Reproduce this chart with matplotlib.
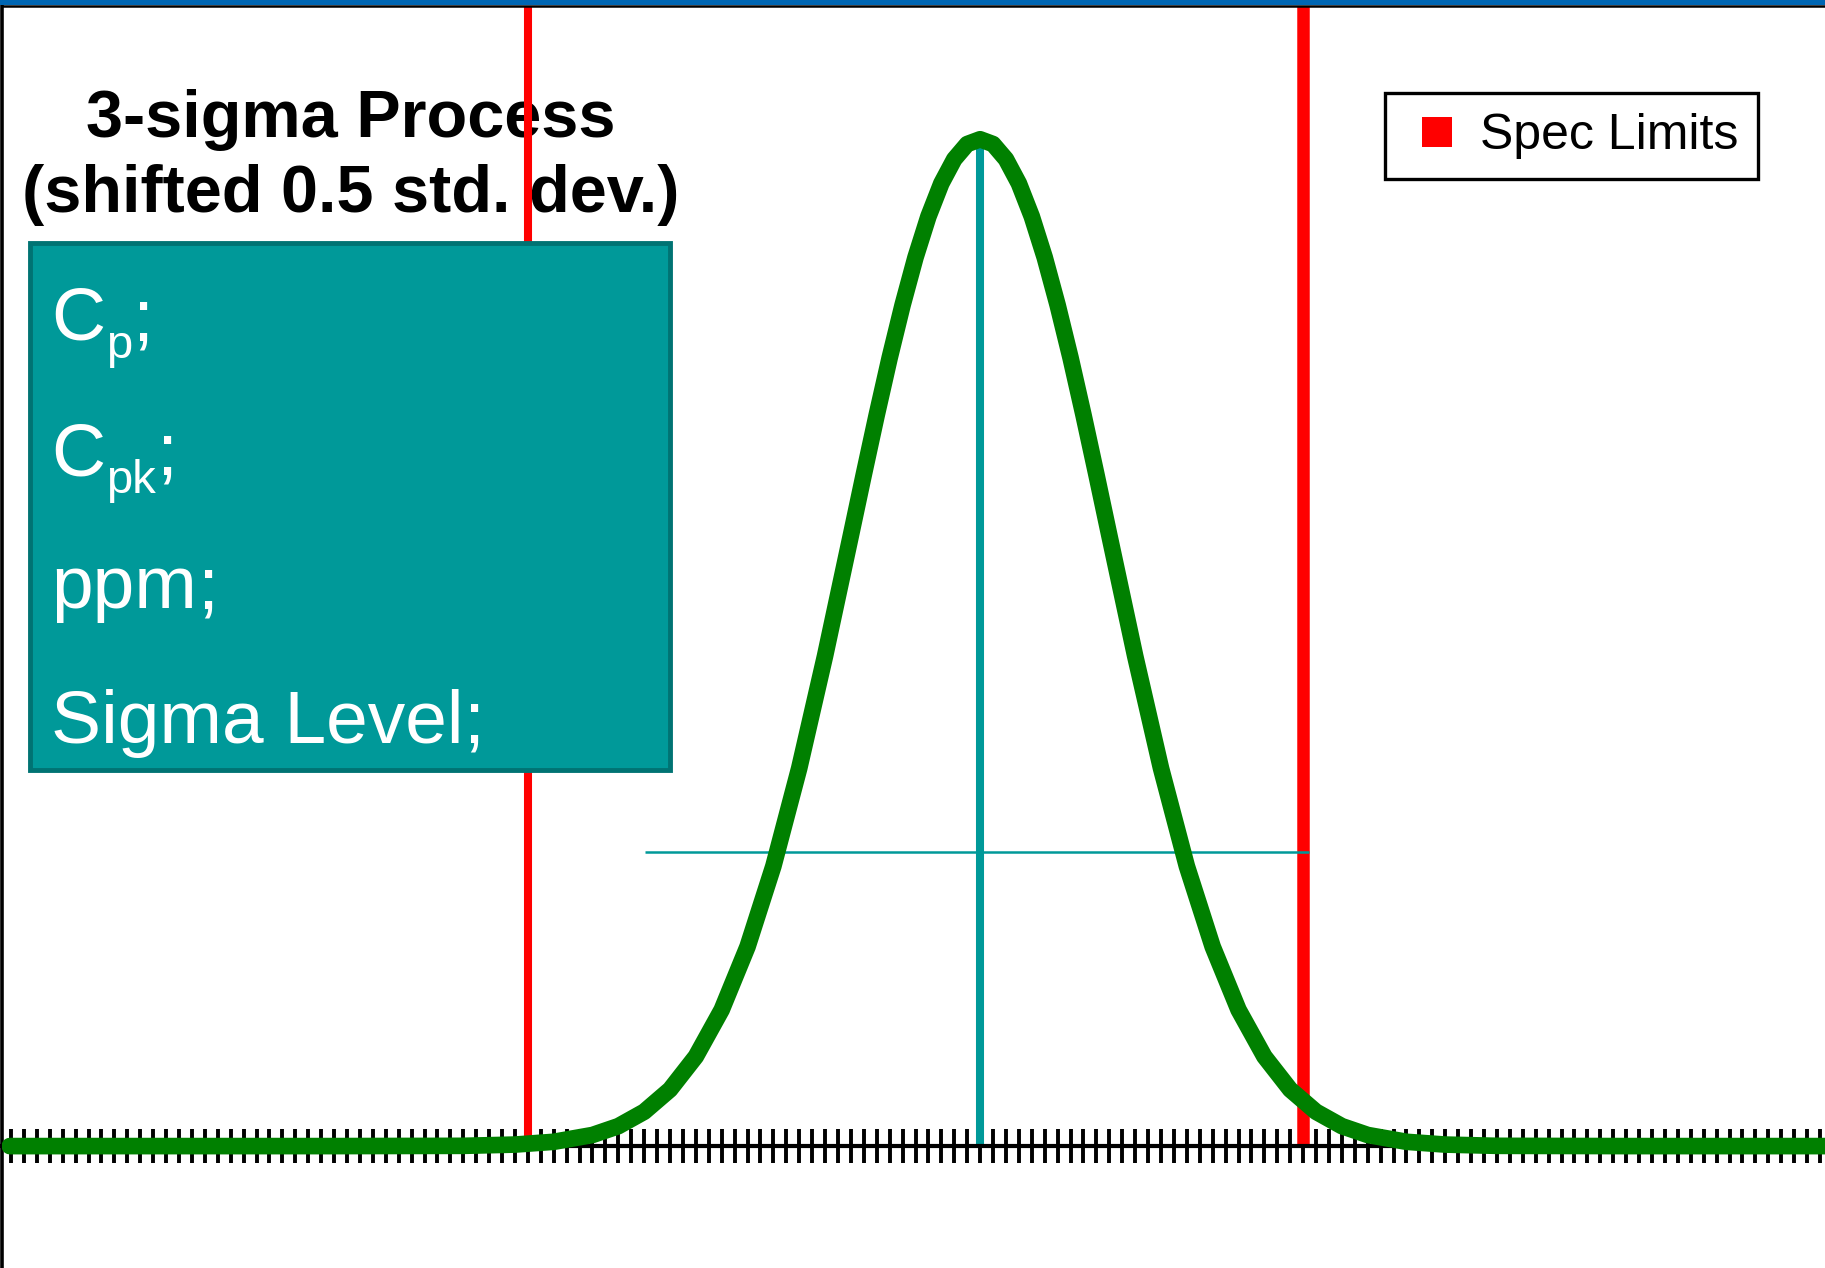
import matplotlib
matplotlib.use("Agg")
import matplotlib.pyplot as plt
from matplotlib.patches import Rectangle
from matplotlib.lines import Line2D
from matplotlib.ticker import MultipleLocator

plt.rcParams.update({
    'font.family': 'Liberation Sans',
})

# x in std. dev. from target, process mean shifted +0.5
curve_x = [-7.01, -4.5, -3.5, -3.1, -2.8, -2.5, -2.3, -2.1, -1.9, -1.7,
           -1.5, -1.3, -1.1, -0.9, -0.7, -0.5, -0.4, -0.3, -0.2, -0.1,
           0.0, 0.1, 0.2, 0.3, 0.4, 0.5, 0.6, 0.7, 0.8, 0.9,
           1.0, 1.1, 1.2, 1.3, 1.4, 1.5, 1.7, 1.9, 2.1, 2.3,
           2.5, 2.7, 2.9, 3.1, 3.3, 3.5, 3.8, 4.1, 4.5, 5.5, 7.2]
curve_y = [0.0, 0.0, 0.0001, 0.0006, 0.0017, 0.0044, 0.0079, 0.0136, 0.0224, 0.0355,
           0.0540, 0.0790, 0.1109, 0.1497, 0.1942, 0.2420, 0.2661, 0.2897, 0.3123, 0.3332,
           0.3521, 0.3683, 0.3814, 0.3910, 0.3970, 0.3989, 0.3970, 0.3910, 0.3814, 0.3683,
           0.3521, 0.3332, 0.3123, 0.2897, 0.2661, 0.2420, 0.1942, 0.1497, 0.1109, 0.0790,
           0.0540, 0.0355, 0.0224, 0.0136, 0.0079, 0.0044, 0.0017, 0.0006, 0.0001, 0.0, 0.0]
spec_limits = [-3.0, 3.0]
spec_widths = [5.8, 9.0]
process_mean = 0.5
peak_height = 0.399
ref_level = 0.1166
ref_span = [-2.094, 3.046]

title_lines = ['3-sigma Process', '(shifted 0.5 std. dev.)']
box_main = ['C', 'C', 'ppm', 'Sigma Level']
box_sub = ['p', 'pk', '', '']
legend_label = 'Spec Limits'

W, H = 1825, 1268
green = '#008000'
teal = '#009999'


def fx(px):
    return px / W


def fy(py):
    return 1 - py / H


fig = plt.figure(figsize=(W / 100, H / 100), dpi=100)
ax = fig.add_axes([fx(2), 0, 1 - fx(2), 1 - 6 / H])
ax.set_xlim(-7.070, 7.039)
ax.set_ylim(-0.0483, 0.4517)

# blue bar along the top
fig.add_artist(Rectangle((0, fy(5)), 1, 5 / H, transform=fig.transFigure,
                         facecolor='#0066B3', edgecolor='none', zorder=10))

# title sits under the spec lines
ax.text(fx(351), fy(137), title_lines[0], transform=fig.transFigure,
        ha='center', va='baseline', fontsize=48, fontweight='bold', zorder=1)
ax.text(fx(351), fy(212), title_lines[1], transform=fig.transFigure,
        ha='center', va='baseline', fontsize=48, fontweight='bold', zorder=1)

for xs, lw in zip(spec_limits, spec_widths):
    ax.vlines(xs, 0, 0.4517, colors='red', linewidth=lw, zorder=2)

ax.vlines(process_mean, 0, peak_height, colors=teal, linewidth=5.8, zorder=2.2)
ax.hlines(ref_level, ref_span[0], ref_span[1], colors=teal, linewidth=1.8, zorder=2.2)

ax.plot(curve_x, curve_y, color=green, linewidth=12, solid_capstyle='round',
        solid_joinstyle='round', zorder=3)

# info box
ax.add_patch(Rectangle((fx(30), fy(770)), fx(640), 527 / H, transform=fig.transFigure,
                       facecolor=teal, edgecolor='#007373', linewidth=3.5, zorder=4))
renderer = fig.canvas.get_renderer()
for main, sub, base in zip(box_main, box_sub, [340, 475, 608, 743]):
    t = ax.text(fx(51), fy(base), main, transform=fig.transFigure, color='white',
                fontsize=54, va='baseline', ha='left', zorder=5)
    x_end = t.get_window_extent(renderer).x1
    if sub:
        s = ax.text(fx(x_end + 1), fy(base + 18), sub, transform=fig.transFigure,
                    color='white', fontsize=34, va='baseline', ha='left', zorder=5)
        x_end = s.get_window_extent(renderer).x1
    ax.text(fx(x_end), fy(base), ';', transform=fig.transFigure, color='white',
            fontsize=54, va='baseline', ha='left', zorder=5)

# axis styling
ax.spines['right'].set_visible(False)
ax.spines['bottom'].set_position(('data', 0))
ax.spines['bottom'].set_linewidth(3)
ax.spines['left'].set_linewidth(2.6)
ax.spines['top'].set_linewidth(1.8)
ax.xaxis.set_major_locator(MultipleLocator(0.1))
ax.tick_params(axis='x', direction='inout', length=24.5, width=2.8,
               labelbottom=False)
ax.set_yticks([])

handle = Line2D([], [], linestyle='none', marker='s', markersize=22,
                markerfacecolor='red', markeredgewidth=0)
leg = ax.legend([handle], [legend_label], loc='upper right',
                bbox_to_anchor=(fx(1758), fy(93)), bbox_transform=fig.transFigure,
                fontsize=36, frameon=True, fancybox=False, framealpha=1,
                edgecolor='black', borderaxespad=0, borderpad=0.4,
                handletextpad=0.2, handlelength=1.3)
leg.get_frame().set_linewidth(2.4)
leg.set_zorder(6)

fig.savefig('out.png', dpi=100)
